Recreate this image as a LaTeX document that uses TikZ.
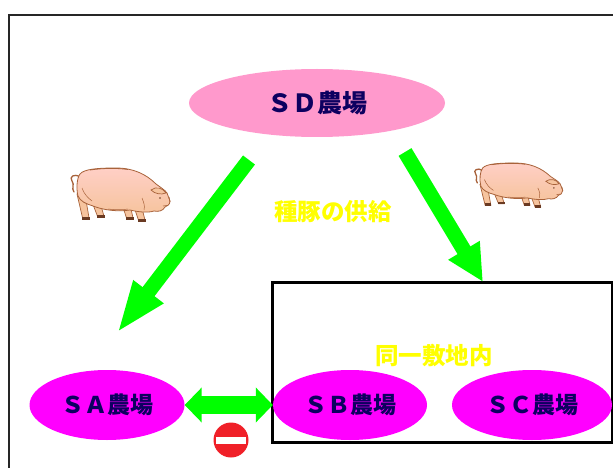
\documentclass[tikz,border=0pt]{standalone}
\usepackage{fontspec}
\newfontfamily\jp{Noto Sans CJK JP}
\usetikzlibrary{arrows.meta,shapes.geometric}

\definecolor{farmtext}{HTML}{0D0060}
\definecolor{sdpink}{HTML}{FF99CC}
\definecolor{farmmag}{HTML}{FF00FF}
\definecolor{flowgreen}{HTML}{00FF00}
\definecolor{labelyellow}{HTML}{FFFF00}
\definecolor{stopred}{HTML}{F02028}
\definecolor{pigtop}{HTML}{FFCFC6}
\definecolor{pigbottom}{HTML}{F6C49E}
\definecolor{pigline}{HTML}{A8623A}
\definecolor{pighoof}{HTML}{6A3A22}

\tikzset{
  farm/.style={ellipse, inner sep=0pt, text=farmtext,
    font=\jp\bfseries\fontsize{23}{23}\selectfont},
  yellowlabel/.style={text=labelyellow, inner sep=0pt,
    font=\jp\bfseries\fontsize{23.5}{24}\selectfont},
  supply/.style={draw=flowgreen, line width=15pt},
  pig/.pic={
    % legs, drawn first so the body covers their tops
    \foreach \ax/\ay/\bx/\by in {13/26/18/51, 28/34/33/49, 58/36/62/51, 69/36/74/53}{
      \filldraw[fill=pigbottom, draw=pigline, line width=0.7pt]
        (\ax-4,\ay) -- (\bx-3.2,\by) -- (\bx+3.2,\by) -- (\ax+4,\ay) -- cycle;
      \fill[pighoof] (\bx-3.7,\by-2.5) rectangle (\bx+3.7,\by+0.8);
    }
    % curly tail
    \draw[pigline, line width=1.3pt, line cap=round]
      (12,9) .. controls (6,5) and (1,9) .. (4,13)
             .. controls (7,17) and (3,20) .. (6,24);
    % body and head
    \shadedraw[top color=pigtop, bottom color=pigbottom, draw=pigline, line width=0.8pt]
      (12,6) .. controls (16,1) and (30,0) .. (48,0)
      .. controls (65,0) and (78,6) .. (88,16)
      .. controls (92,19) and (97,22) .. (99,25)
      -- (102,33)
      .. controls (102,37) and (99,38) .. (97,39)
      .. controls (95,43) and (90,44) .. (86,43)
      .. controls (80,45) and (70,44) .. (62,42)
      .. controls (50,44) and (35,42) .. (25,38)
      .. controls (18,36) and (12,33) .. (10,28)
      .. controls (8,20) and (9,10) .. (12,6) -- cycle;
    % ear
    \filldraw[fill=pigbottom, draw=pigline, line width=0.7pt]
      (83,22) .. controls (88,18) and (95,20) .. (98,25)
              .. controls (93,27) and (87,26) .. (83,22) -- cycle;
    % eye, snout and mouth
    \fill[pighoof] (92,30) circle (0.9);
    \draw[pigline, line width=0.7pt] (101,29) -- (102,34);
    \draw[pigline, line width=0.6pt] (95,38) .. controls (97,37) .. (99,37.5);
    % hair strokes
    \draw[pigline, line width=0.8pt] (22,2) .. controls (35,0) and (50,0) .. (60,1.5);
    \draw[pigline, line width=0.5pt] (40,41) .. controls (48,42) and (55,42) .. (60,41);
    \draw[pigline, line width=0.5pt] (14,20) .. controls (16,26) and (20,30) .. (24,33);
    \draw[pigline, line width=0.5pt] (74,30) .. controls (76,35) and (77,38) .. (76,42);
  }
}

\begin{document}
\begin{tikzpicture}[x=1pt,y=-1pt]
\useasboundingbox (0,0) rectangle (613,468);

% outer frame
\draw[line width=2pt, black!85] (9,472) -- (9,15) -- (617,15);

% enclosure shared by SB and SC
\draw[line width=3pt] (272,282) rectangle (612,442);

% farms
\node[farm, fill=sdpink, minimum width=256pt, minimum height=68pt, font=\jp\bfseries\fontsize{25}{25}\selectfont] (sd) at (317,103) {ＳＤ農場};
\node[farm, fill=farmmag, minimum width=155pt, minimum height=70pt] (sa) at (107,405) {ＳＡ農場};
\node[farm, fill=farmmag, minimum width=154pt, minimum height=70pt] (sb) at (350,405) {ＳＢ農場};
\node[farm, fill=farmmag, minimum width=160pt, minimum height=70pt] (sc) at (532,405) {ＳＣ農場};

% labels
\node[yellowlabel] (supplylabel) at (333,212) {種豚の供給};
\node[yellowlabel] (sitelabel) at (434,355) {同一敷地内};

% supply arrows out of SD
\coordinate (sdleft) at (249,160);
\coordinate (satop) at (117,333);
\coordinate (sdright) at (405,152);
\coordinate (boxtop) at (483,282);
\draw[supply, -{Triangle[length=52pt,width=34pt]}] (sdleft) -- (satop);
\draw[supply, -{Triangle[length=37pt,width=34pt]}] (sdright) -- (boxtop);

% two-way link between SA and SB
\draw[draw=flowgreen, line width=18pt,
  {Triangle[length=17pt,width=34pt]}-{Triangle[length=17pt,width=34pt]}] (sa.east) -- (sb.west);

% no-entry sign
\node[circle, fill=stopred, minimum size=35pt, inner sep=0pt] (stop) at (231,440) {};
\node[fill=white, minimum width=30pt, minimum height=7pt, inner sep=0pt] (stopbar) at (stop) {};

% pigs
\pic at (68,168) {pig};
\pic[xscale=0.89, yscale=0.83] at (472,163) {pig};
\end{tikzpicture}
\end{document}
